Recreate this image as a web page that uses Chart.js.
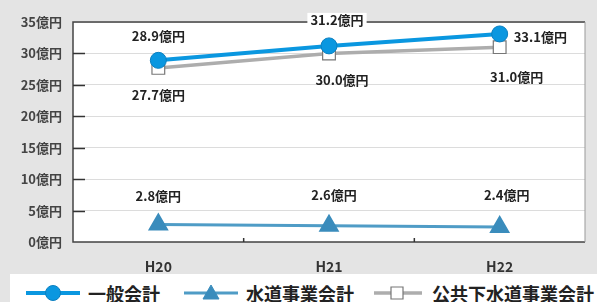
<!DOCTYPE html>
<html>
<head>
<meta charset="utf-8">
<script src="https://cdn.jsdelivr.net/npm/chart.js@4"></script>
<style>
  body { margin: 0; background: #e4e4e4; }
  #wrap { position: relative; width: 597px; height: 302px; overflow: hidden; }
  #legend { position: absolute; left: 10px; top: 274px; width: 600px; height: 28px; background: #fff;
    font-family: "Noto Sans CJK JP", sans-serif; font-weight: bold; font-size: 18px; color: #222;
    white-space: nowrap; }
  #legend span.item { position: absolute; top: 0; height: 38px; display: flex; align-items: center; }
  #legend canvas { margin-right: 6px; }
</style>
</head>
<body>
<div id="wrap">
  <canvas id="lineChart" width="597" height="302"></canvas>
  <div id="legend"></div>
</div>
<script>
var years = ['H20', 'H21', 'H22']
var ippan = [28.9, 31.2, 33.1]
var suido = [2.8, 2.6, 2.4]
var gesui = [27.7, 30.0, 31.0]
var seriesNames = ['一般会計', '水道事業会計', '公共下水道事業会計']
var yTicks = [0, 5, 10, 15, 20, 25, 30, 35]

// label offsets from point (dx, dy, align)
var labelPos = [
  [[0, -24, 'center'], [8, -26, 'center'], [14, 3, 'left']],
  [[0, -28, 'center'], [5, -31, 'center'], [7, -32, 'center']],
  [[0, 27, 'center'], [13, 27, 'center'], [17, 30, 'center']]
]

var font = '"Noto Sans CJK JP", sans-serif'

var frame = {
  id: 'frame',
  beforeDraw: function (chart) {
    var c = chart.ctx, a = chart.chartArea
    c.save()
    c.fillStyle = '#fff'
    c.fillRect(a.left, a.top, a.right - a.left, a.bottom - a.top)
    c.restore()
  },
  afterDatasetsDraw: function (chart) {
    var c = chart.ctx, a = chart.chartArea
    var y = chart.scales.y, x = chart.scales.x
    c.save()
    // frame
    c.strokeStyle = '#444'
    c.lineWidth = 1.5
    c.beginPath()
    c.moveTo(a.right, a.top); c.lineTo(a.left, a.top); c.lineTo(a.left, a.bottom); c.lineTo(a.right, a.bottom)
    c.stroke()
    c.strokeStyle = '#999'
    c.lineWidth = 1
    c.beginPath(); c.moveTo(a.right, a.top); c.lineTo(a.right, a.bottom); c.stroke()
    // inward ticks
    c.strokeStyle = '#333'
    c.lineWidth = 1.5
    yTicks.forEach(function (v) {
      if (v === 0 || v === 35) return
      var py = Math.round(y.getPixelForValue(v)) + 0.5
      c.beginPath(); c.moveTo(a.left, py); c.lineTo(a.left + 12, py); c.stroke()
    })
    for (var i = 0; i < years.length - 1; i++) {
      var px = (x.getPixelForValue(i) + x.getPixelForValue(i + 1)) / 2
      c.beginPath(); c.moveTo(px, a.bottom); c.lineTo(px, a.bottom - 4); c.stroke()
    }
    // value labels
    c.font = 'bold 13px ' + font
    c.textBaseline = 'middle'
    chart.data.datasets.forEach(function (ds, di) {
      var meta = chart.getDatasetMeta(di)
      meta.data.forEach(function (pt, i) {
        var p = labelPos[di][i]
        var txt = ds.data[i].toFixed(1) + '億円'
        c.textAlign = p[2]
        var tx = pt.x + p[0], ty = pt.y + p[1]
        if (di === 0 && i === 1) {
          var w = c.measureText(txt).width
          c.fillStyle = '#fff'
          c.fillRect(tx - w / 2 - 3, ty - 7, w + 6, 14)
        }
        c.fillStyle = '#222'
        c.fillText(txt, tx, ty)
      })
    })
    c.restore()
  }
}

var ctx = document.getElementById('lineChart').getContext('2d')
var lineChart = new Chart(ctx, {
  type: 'line',
  data: {
    labels: years,
    datasets: [
      {
        label: seriesNames[0],
        data: ippan,
        borderColor: '#0a97e0',
        borderWidth: 4,
        pointStyle: 'circle',
        pointRadius: 8,
        pointBackgroundColor: '#0a97e0',
        pointBorderColor: '#0a7fc0',
        pointBorderWidth: 1,
        order: 0
      },
      {
        label: seriesNames[1],
        data: suido,
        borderColor: '#4f9cc6',
        borderWidth: 3,
        pointStyle: 'triangle',
        pointRadius: 9,
        pointBackgroundColor: '#3a8cbc',
        pointBorderColor: '#3a8cbc',
        order: 1
      },
      {
        label: seriesNames[2],
        data: gesui,
        borderColor: '#adadad',
        borderWidth: 3.5,
        pointStyle: 'rect',
        pointRadius: 9,
        pointBackgroundColor: '#fff',
        pointBorderColor: '#777',
        pointBorderWidth: 1.2,
        order: 2
      }
    ]
  },
  options: {
    responsive: false,
    animation: false,
    layout: { padding: { top: 22, right: 5, bottom: 27, left: 0 } },
    plugins: { legend: { display: false }, tooltip: { enabled: false } },
    scales: {
      x: {
        offset: true,
        grid: { display: false },
        border: { display: false },
        ticks: { color: '#333', font: { family: font, size: 14, weight: 'bold' }, padding: 8 },
        afterFit: function (s) { s.height = 33 }
      },
      y: {
        min: 0,
        max: 35,
        grid: { color: '#dcdcdc', drawTicks: false },
        border: { display: false },
        ticks: {
          stepSize: 5,
          padding: 11,
          color: '#444',
          font: { family: font, size: 13, weight: 'bold' },
          callback: function (v) { return v + '億円' }
        },
        afterFit: function (s) { s.width = 73 }
      }
    }
  },
  plugins: [frame]
})

// legend
var legendEl = document.getElementById('legend')
var legX = [14, 172, 358]
lineChart.data.datasets.forEach(function (ds, i) {
  var item = document.createElement('span')
  item.className = 'item'
  item.style.left = legX[i] + 'px'
  var cv = document.createElement('canvas')
  cv.width = 58; cv.height = 20
  var g = cv.getContext('2d')
  g.strokeStyle = ds.borderColor
  g.lineWidth = ds.borderWidth
  g.beginPath()
  if (i === 2) { g.moveTo(6, 10); g.lineTo(54, 10) } else { g.moveTo(2, 10); g.lineTo(56, 10) }
  g.stroke()
  g.fillStyle = ds.pointBackgroundColor
  g.strokeStyle = ds.pointBorderColor
  g.lineWidth = ds.pointBorderWidth || 1
  g.beginPath()
  if (ds.pointStyle === 'circle') g.arc(29, 10, 7.5, 0, Math.PI * 2)
  else if (ds.pointStyle === 'triangle') { g.moveTo(29, 2); g.lineTo(37, 16); g.lineTo(21, 16); g.closePath() }
  else g.rect(23, 4, 12, 12)
  g.fill(); g.stroke()
  item.appendChild(cv)
  item.appendChild(document.createTextNode(ds.label))
  legendEl.appendChild(item)
})
</script>
</body>
</html>
